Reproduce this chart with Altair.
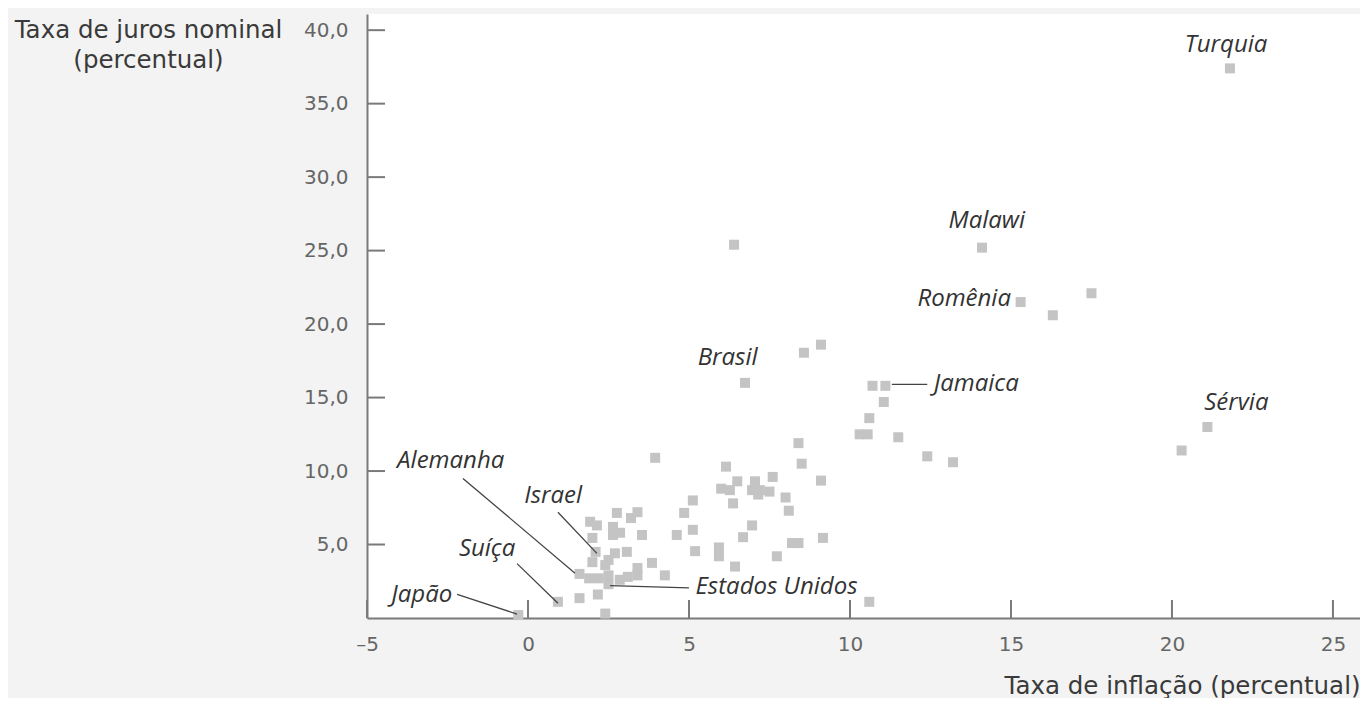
import altair as alt
import pandas as pd

# Scatter data: inflation (x) and nominal interest rate (y), percent
infl = [-0.3, 0.93, 1.6, 2.17, 2.4, 1.6, 1.9, 2.2, 2.5, 2.85, 3.1, 3.4, 3.4, 2.0, 2.4, 2.5,
        2.5, 3.85, 4.25, 2.1, 2.7, 3.07, 2.0, 2.64, 2.86, 3.54, 1.93, 2.14, 2.64, 2.76,
        3.2, 3.4, 3.95,
        4.62, 4.85, 5.12, 5.12, 5.19, 5.93, 5.93, 6.43, 6.68, 6.96, 7.73, 8.2, 8.4, 9.16,
        6.15, 6.0, 6.27, 6.5, 6.37, 7.05, 6.96, 7.15, 7.2, 7.6, 7.5, 8.0, 8.1, 8.4, 8.5,
        9.1, 6.74, 8.57, 9.1, 6.4, 10.6,
        10.7, 11.1, 11.05, 10.6, 10.3, 10.55, 11.5, 12.4, 13.2, 14.1, 15.3, 16.3, 17.5,
        20.3, 21.1, 21.8]
juros = [0.2, 1.1, 1.35, 1.6, 0.3, 3.0, 2.7, 2.7, 2.9, 2.6, 2.8, 2.9, 3.4, 3.8, 3.6, 2.3,
         3.95, 3.75, 2.9, 4.5, 4.4, 4.5, 5.45, 5.65, 5.8, 5.65, 6.55, 6.3, 6.2, 7.15,
         6.8, 7.2, 10.9,
         5.65, 7.15, 8.0, 6.0, 4.55, 4.8, 4.2, 3.5, 5.5, 6.3, 4.2, 5.1, 5.1, 5.45,
         10.3, 8.8, 8.7, 9.3, 7.8, 9.3, 8.7, 8.4, 8.7, 9.6, 8.6, 8.2, 7.3, 11.9, 10.5,
         9.35, 16.0, 18.05, 18.6, 25.4, 1.1,
         15.8, 15.8, 14.7, 13.6, 12.5, 12.5, 12.3, 11.0, 10.6, 25.2, 21.5, 20.6, 22.1,
         11.4, 13.0, 37.4]

# Country labels
lab_text = ["Turquia", "Malawi", "Romênia", "Jamaica", "Sérvia", "Brasil", "Alemanha",
            "Israel", "Suíça", "Japão", "Estados Unidos"]
lab_x = [21.68, 14.25, 15.0, 12.6, 22.0, 6.2, -2.4, 0.78, -1.27, -3.3, 5.2]
lab_y = [39.0, 27.0, 21.7, 15.9, 14.6, 17.7, 10.7, 8.3, 4.7, 1.55, 2.1]
lab_align = ["center", "center", "right", "left", "center", "center", "center",
             "center", "center", "center", "left"]

# Leader lines (from label to point)
lead_x = [11.3, -2.02, 0.93, -0.34, -2.2, 2.55]
lead_y = [15.9, 9.5, 7.2, 3.7, 1.6, 2.2]
lead_x2 = [12.4, 1.46, 2.14, 0.93, -0.34, 5.0]
lead_y2 = [15.9, 3.05, 4.4, 1.0, 0.27, 2.05]

x_ticks = [-5, 0, 5, 10, 15, 20, 25]
y_ticks = [5, 10, 15, 20, 25, 30, 35, 40]

X_DOM = [-5, 25.84]
Y_DOM = [0, 41.1]

pts = pd.DataFrame({"infl": infl, "juros": juros})
labs = pd.DataFrame({"t": lab_text, "x": lab_x, "y": lab_y, "a": lab_align})
leads = pd.DataFrame({"x": lead_x, "y": lead_y, "x2": lead_x2, "y2": lead_y2})
xt = pd.DataFrame({"v": x_ticks})
yt = pd.DataFrame({"v": y_ticks})

AX_FONT = "DejaVu Sans"
LAB_FONT = "Open Sans"
AXIS_COLOR = "#7a7a7a"

xscale = alt.Scale(domain=X_DOM, nice=False, zero=False)
yscale = alt.Scale(domain=Y_DOM, nice=False, zero=False)

x_axis = alt.Axis(values=x_ticks, ticks=False, grid=False, domainColor=AXIS_COLOR,
                  domainWidth=2, labelFont=AX_FONT, labelFontSize=20,
                  labelColor="#666666", labelPadding=16,
                  labelExpr="datum.value < 0 ? '–' + abs(datum.value) : datum.label",
                  title="Taxa de inflação (percentual)", titleFont=AX_FONT,
                  titleFontSize=24.5, titleFontWeight="normal", titleColor="#3a3a3a",
                  titleAnchor="end", titlePadding=20, labelFlush=False)
y_axis = alt.Axis(values=y_ticks, ticks=False, grid=False, domainColor=AXIS_COLOR,
                  domainWidth=2, labelFont=AX_FONT, labelFontSize=20,
                  labelColor="#666666", labelPadding=19,
                  labelExpr="replace(format(datum.value, '.1f'), '.', ',')",
                  title=["Taxa de juros nominal", "(percentual)"], titleFont=AX_FONT,
                  titleFontSize=24.5, titleFontWeight="normal", titleColor="#3a3a3a",
                  titleAngle=0, titleAlign="center", titleBaseline="middle",
                  titleX=-219, titleY=16, titleLineHeight=30, labelFlush=False)

points = alt.Chart(pts).mark_square(size=100, color="#c4c4c4", opacity=1).encode(
    x=alt.X("infl:Q", scale=xscale, axis=x_axis),
    y=alt.Y("juros:Q", scale=yscale, axis=y_axis),
)

leaders = alt.Chart(leads).mark_rule(color="#444444", strokeWidth=1.3).encode(
    x="x:Q", y="y:Q", x2="x2:Q", y2="y2:Q"
)

layers_text = []
for al in ["left", "center", "right"]:
    sub = labs[labs["a"] == al]
    layers_text.append(
        alt.Chart(sub).mark_text(font=LAB_FONT, fontStyle="italic", fontSize=24,
                                 color="#333333", baseline="middle", align=al).encode(
            x="x:Q", y="y:Q", text="t:N")
    )

xticks = alt.Chart(xt).mark_rule(color=AXIS_COLOR, strokeWidth=2).encode(
    x="v:Q", y=alt.value(604), y2=alt.value(586)
)
yticks = alt.Chart(yt).mark_rule(color=AXIS_COLOR, strokeWidth=2).encode(
    y="v:Q", x=alt.value(0), x2=alt.value(18)
)

chart = alt.layer(points, leaders, xticks, yticks, *layers_text).properties(
    width=993, height=604,
    autosize=alt.AutoSizeParams(type="none"),
    padding={"left": 359, "top": 6, "right": 0, "bottom": 80},
    background="#f2f3f2",
).configure_view(fill="white", stroke=None)

chart.save("out.html", embed_options={"renderer": "svg", "actions": False})
